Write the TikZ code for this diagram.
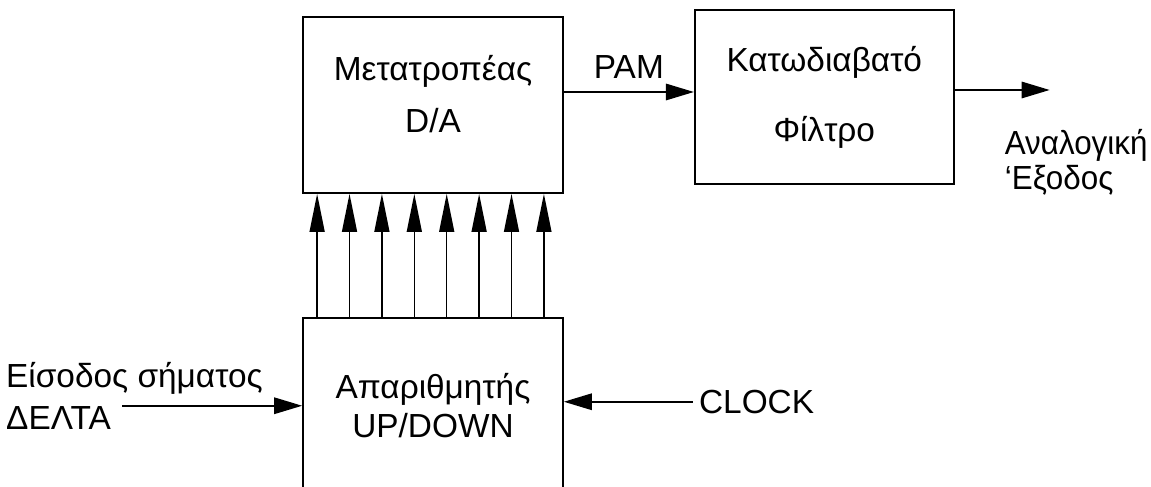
\documentclass[tikz,border=0pt]{standalone}
\usepackage{fontspec}
\setmainfont{Liberation Sans}
\usetikzlibrary{arrows.meta,positioning,calc}

\begin{document}
\begin{tikzpicture}[
            font=\fontsize{19}{23}\selectfont,
            box/.style={draw, line width=1pt, align=center, minimum height=35.2mm, minimum width=52mm},
            lbl/.style={align=left},
            arrow/.style={-{Triangle[length=5.6mm,width=3.3mm]}, line width=0.9pt},
            busarrow/.style={-{Triangle[length=7.6mm,width=3mm]}, line width=0.8pt}
        ]
            \clip (0,0) rectangle (23.02,-9.74);
            \node[box] (dac) at (8.66,-2.1) {Μετατροπέας\\[6.6pt]D/A\\[-10.5pt]\mbox{}};
            \node[box, right=26mm of dac, yshift=1.6mm, minimum height=34.8mm, minimum width=51.8mm] (flt) {Κατωδιαβατό\\[16.8pt]Φίλτρο};
            \node[box, below=24.6mm of dac] (cnt) {Απαριθμητής\\[-0.8pt]UP/DOWN};

            \foreach \i in {0,...,7}
                \draw[busarrow] ($(cnt.north west)+(0.3+0.648*\i,0)$) -- ($(dac.south west)+(0.3+0.648*\i,0)$);

            \draw[arrow] ([yshift=2.6mm]dac.east) -- ([yshift=2.6mm]dac.east -| flt.west) node[midway, above=4pt] {PAM};

            \coordinate[right=19mm of flt.east, yshift=1.4mm] (out);
            \draw[arrow] (flt.east |- out) -- (out);
            \node[lbl, below right=6.7mm and -10.2mm of out, font=\fontsize{19}{23}\selectfont\addfontfeature{FakeStretch=0.94}] (outlbl) {Αναλογική\\[-3.1pt]‘Εξοδος};

            \coordinate[left=36mm of cnt.west] (in);
            \node[lbl, anchor=west] (inlbl) at (0,-7.92) {Είσοδος σήματος\\[0.9pt]ΔΕΛΤΑ};
            \draw[arrow] (in) -- (cnt.west);

            \node[right=25.8mm of cnt.east, yshift=0.8mm] (clk) {CLOCK};
            \draw[arrow] (clk.west) -- (clk.west -| cnt.east);
        \end{tikzpicture}
\end{document}
